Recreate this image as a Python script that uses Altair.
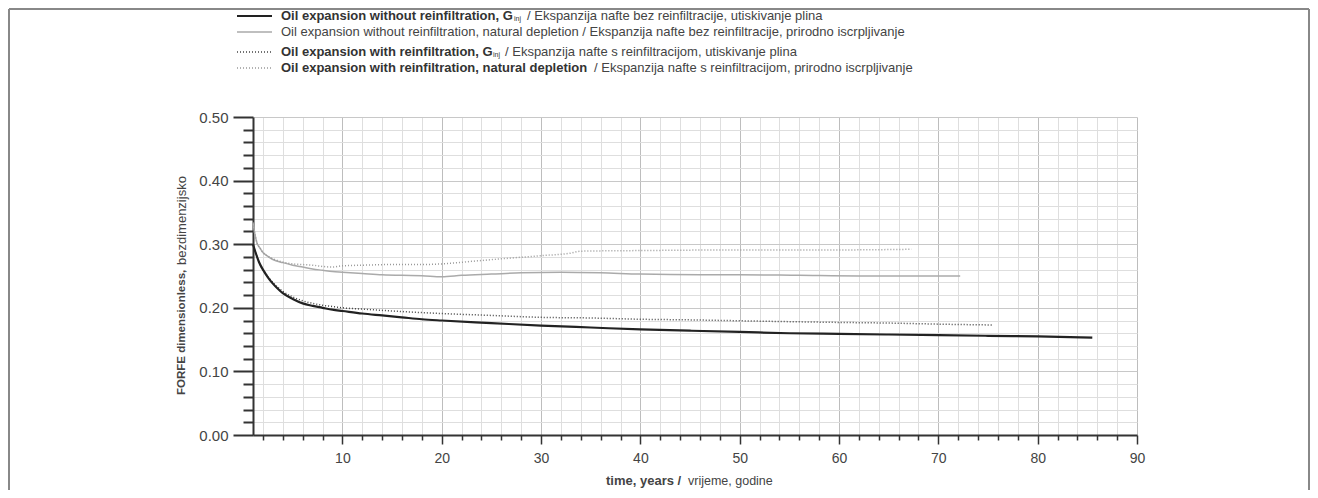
import altair as alt
import pandas as pd

# ---------------- data ----------------
t_gas_noreinf = [1, 1.3, 1.6, 2, 2.5, 3, 3.5, 4, 5, 6, 7, 8, 9, 10, 12, 14, 16, 18, 20,
                 25, 30, 35, 40, 45, 50, 55, 60, 65, 70, 75, 80, 85.5]
v_gas_noreinf = [0.300, 0.285, 0.272, 0.260, 0.248, 0.238, 0.230, 0.223, 0.214, 0.207,
                 0.203, 0.200, 0.197, 0.195, 0.191, 0.188, 0.185, 0.182, 0.180,
                 0.176, 0.172, 0.169, 0.166, 0.164, 0.162, 0.160, 0.159, 0.158, 0.157,
                 0.156, 0.155, 0.153]

t_nat_noreinf = [1, 1.2, 1.4, 1.7, 2, 2.5, 3, 4, 5, 6, 7, 8, 9, 10, 12, 14, 16, 18, 20,
                 22, 25, 28, 32, 36, 40, 46, 50, 56, 62, 68, 72.2]
v_nat_noreinf = [0.334, 0.315, 0.302, 0.294, 0.287, 0.281, 0.276, 0.271, 0.267, 0.264,
                 0.261, 0.259, 0.257, 0.256, 0.254, 0.252, 0.251, 0.2505, 0.249,
                 0.251, 0.253, 0.255, 0.256, 0.255, 0.253, 0.252, 0.252, 0.251, 0.250,
                 0.250, 0.250]

t_gas_reinf = [1, 1.3, 1.6, 2, 2.5, 3, 3.5, 4, 5, 6, 7, 8, 9, 10, 12, 15, 20, 25, 30,
               35, 40, 45, 52, 60, 65, 71, 75.5]
v_gas_reinf = [0.300, 0.285, 0.272, 0.260, 0.249, 0.240, 0.232, 0.226, 0.217, 0.211,
               0.207, 0.204, 0.202, 0.200, 0.198, 0.195, 0.191, 0.188, 0.185, 0.184,
               0.182, 0.181, 0.179, 0.177, 0.176, 0.174, 0.173]

t_nat_reinf = [1, 1.2, 1.4, 1.7, 2, 2.5, 3, 4, 5, 6, 7, 8, 9, 10, 12, 15, 18, 20, 23,
               26, 30, 33, 34, 40, 50, 60, 67.3]
v_nat_reinf = [0.334, 0.315, 0.302, 0.294, 0.287, 0.281, 0.277, 0.272, 0.269, 0.268,
               0.267, 0.265, 0.264, 0.266, 0.267, 0.268, 0.268, 0.269, 0.273, 0.277,
               0.282, 0.286, 0.289, 0.290, 0.291, 0.291, 0.292]

x_tick_values = list(range(2, 91, 2))
y_tick_values = [round(i * 0.02, 2) for i in range(26)]

FONT = "Liberation Sans"
DARK = "#333333"
TXT = "#444444"
MAJ_Y = "abs(datum.value * 10 - round(datum.value * 10)) < 0.001"
MAJ_X = "datum.value % 10 === 0"

# ---------------- axes ----------------
x_enc = alt.X(
    "t:Q",
    scale=alt.Scale(domain=[1, 90], nice=False, zero=False),
    axis=alt.Axis(
        values=x_tick_values,
        title=None,
        labelExpr=MAJ_X + " ? datum.label : ''",
        format="d",
        labelFlush=False,
        labelOverlap=False,
        labelFont=FONT,
        labelFontSize=14,
        labelColor=TXT,
        labelPadding=7,
        domainColor=DARK,
        domainWidth=2,
        tickColor=DARK,
        tickWidth=1.5,
        tickSize={"condition": {"test": MAJ_X, "value": 9}, "value": 5},
        grid=True,
        gridColor={"condition": {"test": MAJ_X, "value": "#bdbdbd"}, "value": "#dedede"},
        gridWidth=1,
    ),
)
y_enc = alt.Y(
    "v:Q",
    scale=alt.Scale(domain=[0, 0.5], nice=False),
    axis=alt.Axis(
        values=y_tick_values,
        title=None,
        format=".2f",
        labelExpr=MAJ_Y + " ? datum.label : ''",
        labelOverlap=False,
        labelFont=FONT,
        labelFontSize=15,
        labelColor=TXT,
        labelPadding=5,
        domainColor=DARK,
        domainWidth=2,
        tickColor=DARK,
        tickWidth=2,
        tickSize={"condition": {"test": MAJ_Y, "value": 20}, "value": 10},
        grid=True,
        gridColor={"condition": {"test": MAJ_Y, "value": "#c8c8c8"}, "value": "#dedede"},
        gridWidth=1,
    ),
)


def series(t, v, color, width, dash=None):
    df = pd.DataFrame({"t": t, "v": v})
    kw = dict(color=color, strokeWidth=width, interpolate="monotone")
    if dash:
        kw["strokeDash"] = dash
    return alt.Chart(df).mark_line(**kw).encode(x=x_enc, y=y_enc)


one = pd.DataFrame({"a": [0]})

# page -> chart coordinates (plot origin at page 253,117)
OX, OY = 253, 117


def txt(s, px, py, weight="normal", size=13, color=TXT, angle=0, align="left"):
    return alt.Chart(one).mark_text(
        text=s, font=FONT, fontSize=size, fontWeight=weight, color=color,
        align=align, baseline="middle", angle=angle,
    ).encode(x=alt.value(px - OX), y=alt.value(py - OY))


def sample(py, color, width, dash=None):
    kw = dict(color=color, strokeWidth=width)
    if dash:
        kw["strokeDash"] = dash
    return alt.Chart(one).mark_rule(**kw).encode(
        x=alt.value(237 - OX), x2=alt.value(272 - OX), y=alt.value(py - OY))


rows = [16, 32, 52, 68]
legend = [
    sample(rows[0], "#222222", 2),
    txt("Oil expansion without reinfiltration, G", 281, rows[0], "bold", color=DARK),
    txt("inj", 514, rows[0] + 3, "normal", size=7, color=DARK),
    txt("/  Ekspanzija nafte bez reinfiltracije, utiskivanje plina", 527, rows[0]),
    sample(rows[1], "#aaaaaa", 1.5),
    txt("Oil expansion without reinfiltration, natural depletion  /  Ekspanzija nafte bez reinfiltracije, prirodno iscrpljivanje",
        281, rows[1]),
    sample(rows[2], "#444444", 1.5, [1, 2]),
    txt("Oil expansion with reinfiltration, G", 281, rows[2], "bold", color=DARK),
    txt("inj", 493, rows[2] + 3, "normal", size=7, color=DARK),
    txt("/  Ekspanzija nafte s reinfiltracijom, utiskivanje plina", 505, rows[2]),
    sample(rows[3], "#999999", 1.5, [1, 2]),
    txt("Oil expansion with reinfiltration, natural depletion", 281, rows[3], "bold", color=DARK),
    txt("/  Ekspanzija nafte s reinfiltracijom, prirodno iscrpljivanje", 594, rows[3]),
]

titles = [
    txt("FORFE dimensionless,", 182, 395, "bold", size=11.5, angle=270),
    txt("bezdimenzijsko", 182, 265, "normal", size=13, angle=270),
    txt("time, years /", 606, 481, "bold", size=13),
    txt("vrijeme, godine", 688, 481, "normal", size=12.5),
]

frame = [
    alt.Chart(one).mark_rule(color="#888888", strokeWidth=2).encode(
        x=alt.value(9 - OX), x2=alt.value(1309 - OX), y=alt.value(9 - OY)),
    alt.Chart(one).mark_rule(color="#888888", strokeWidth=2).encode(
        x=alt.value(9 - OX), y=alt.value(9 - OY), y2=alt.value(490 - OY)),
    alt.Chart(one).mark_rule(color="#888888", strokeWidth=2).encode(
        x=alt.value(1309 - OX), y=alt.value(9 - OY), y2=alt.value(490 - OY)),
]

lines = [
    series(t_nat_noreinf, v_nat_noreinf, "#aaaaaa", 1.5),
    series(t_nat_reinf, v_nat_reinf, "#999999", 1.5, [1, 2]),
    series(t_gas_reinf, v_gas_reinf, "#444444", 1.5, [1, 2]),
    series(t_gas_noreinf, v_gas_noreinf, "#222222", 2.2),
]

chart = alt.layer(*lines, *legend, *titles, *frame).properties(
    width=884,
    height=318,
    autosize=alt.AutoSizeParams(type="none"),
    padding={"left": 245, "top": 109, "right": 173, "bottom": 55},
    background="white",
).configure_view(stroke=None)

chart.save("out.html", embed_options={"renderer": "svg", "actions": False})
